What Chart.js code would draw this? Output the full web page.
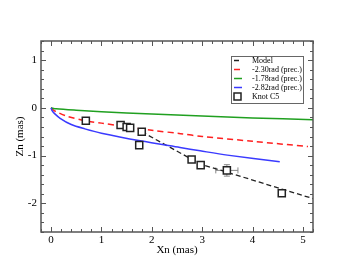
<!DOCTYPE html>
<html><head><meta charset="utf-8">
<script src="https://cdn.jsdelivr.net/npm/chart.js@4/dist/chart.umd.min.js"></script>
<style>html,body{margin:0;padding:0;background:#fff}canvas{display:block}</style>
</head><body>
<canvas id="c" width="353" height="273"></canvas>
<script>
// ---- data ----
const modelX = [1.8, 2.78, 2.97, 3.5, 4.58, 5.2];
const modelY = [-0.50, -1.07, -1.18, -1.35, -1.70, -1.90];
const redX = [0, 0.05, 0.1, 0.3, 0.68, 1.0, 1.5, 2.0, 2.57, 3.0, 4.0, 5.1];
const redY = [0, -0.05, -0.08, -0.17, -0.27, -0.32, -0.40, -0.47, -0.54, -0.60, -0.70, -0.81];
const greenX = [0, 0.1, 0.5, 1.0, 2.0, 3.0, 4.0, 5.2];
const greenY = [0, -0.02, -0.05, -0.08, -0.13, -0.17, -0.21, -0.25];
const blueX = [0, 0.02, 0.05, 0.18, 0.4, 0.67, 1.0, 1.77, 2.56, 2.96, 3.5, 4.54];
const blueY = [0, -0.06, -0.1, -0.22, -0.35, -0.44, -0.53, -0.69, -0.83, -0.90, -0.99, -1.13];
const knotX = [0.69, 1.38, 1.50, 1.57, 1.80, 1.75, 2.79, 2.97, 3.49, 4.58];
const knotY = [-0.27, -0.36, -0.40, -0.42, -0.50, -0.78, -1.08, -1.20, -1.31, -1.79];
const knotXErr = [0, 0, 0, 0, 0, 0, 0, 0, 0.22, 0];
const knotYErr = [0, 0, 0, 0, 0, 0, 0, 0, 0.12, 0];
const labels = ['Model', '-2.30rad (prec.)', '-1.78rad (prec.)', '-2.82rad (prec.)', 'Knot C5'];
const xTicks = [0, 1, 2, 3, 4, 5];
const yTicks = [-2, -1, 0, 1];
const xRange = [-0.2, 5.2];
const yRange = [-2.6, 1.4];

const pts = (xs, ys) => xs.map((x, i) => ({x, y: ys[i]}));
const FONT = "'Liberation Serif', 'DejaVu Serif', serif";

const framePlugin = {
  id: 'frame',
  afterDatasetsDraw(chart) {
    const {ctx, chartArea: a, scales} = chart;
    const xs = scales.x, ys = scales.y;
    ctx.save();
    ctx.strokeStyle = '#555';
    ctx.lineWidth = 1.5;
    ctx.strokeRect(a.left, a.top, a.right - a.left, a.bottom - a.top);
    ctx.lineWidth = 1;
    ctx.beginPath();
    for (let v = -0.2; v <= 5.2001; v += 0.2) {
      const px = Math.round(xs.getPixelForValue(v)) + 0.5;
      const major = Math.abs(v - Math.round(v)) < 1e-6;
      const L = major ? 5 : 3;
      ctx.moveTo(px, a.bottom); ctx.lineTo(px, a.bottom - L);
      ctx.moveTo(px, a.top); ctx.lineTo(px, a.top + L);
    }
    for (let v = -2.6; v <= 1.4001; v += 0.2) {
      const py = Math.round(ys.getPixelForValue(v)) + 0.5;
      const major = Math.abs(v - Math.round(v)) < 1e-6;
      const L = major ? 5 : 3;
      ctx.moveTo(a.left, py); ctx.lineTo(a.left + L, py);
      ctx.moveTo(a.right, py); ctx.lineTo(a.right - L, py);
    }
    ctx.stroke();
    ctx.restore();
  }
};

const errPlugin = {
  id: 'errbars',
  beforeDatasetsDraw(chart) {
    const {ctx, scales} = chart;
    ctx.save();
    ctx.strokeStyle = '#888';
    ctx.lineWidth = 1;
    ctx.beginPath();
    knotX.forEach((x, i) => {
      const px = scales.x.getPixelForValue(x), py = scales.y.getPixelForValue(knotY[i]);
      if (knotXErr[i] > 0) {
        const l = scales.x.getPixelForValue(x - knotXErr[i]), r = scales.x.getPixelForValue(x + knotXErr[i]);
        ctx.moveTo(l, py); ctx.lineTo(r, py);
        ctx.moveTo(l, py - 3); ctx.lineTo(l, py + 3);
        ctx.moveTo(r, py - 3); ctx.lineTo(r, py + 3);
      }
      if (knotYErr[i] > 0) {
        const t = scales.y.getPixelForValue(knotY[i] + knotYErr[i]), b = scales.y.getPixelForValue(knotY[i] - knotYErr[i]);
        ctx.moveTo(px, t); ctx.lineTo(px, b);
        ctx.moveTo(px - 3, t); ctx.lineTo(px + 3, t);
        ctx.moveTo(px - 3, b); ctx.lineTo(px + 3, b);
      }
    });
    ctx.stroke();
    ctx.restore();
  }
};

const legendPlugin = {
  id: 'customLegend',
  afterDraw(chart) {
    const {ctx} = chart;
    const bx = 231, by = 56, bw = 72, bh = 47;
    ctx.save();
    ctx.fillStyle = '#fff';
    ctx.fillRect(bx, by, bw, bh);
    ctx.strokeStyle = '#666';
    ctx.lineWidth = 1;
    ctx.strokeRect(bx + 0.5, by + 0.5, bw, bh);
    ctx.font = '8px ' + FONT;
    ctx.textBaseline = 'middle';
    ctx.fillStyle = '#000';
    const ds = chart.data.datasets;
    const rows = [60.5, 69.5, 78.5, 87.5, 96.5];
    ds.forEach((d, i) => {
      const y = rows[i];
      if (d.showLine === false) {
        ctx.fillStyle = '#fff';
        ctx.strokeStyle = '#222';
        ctx.lineWidth = 1.5;
        ctx.fillRect(234, y - 3.5, 7, 7);
        ctx.strokeRect(234, y - 3.5, 7, 7);
      } else {
        ctx.strokeStyle = d.borderColor;
        ctx.lineWidth = 1.5;
        ctx.setLineDash(d.borderDash || []);
        ctx.beginPath(); ctx.moveTo(234, y); ctx.lineTo(242, y); ctx.stroke();
        ctx.setLineDash([]);
      }
      ctx.fillStyle = '#000';
      ctx.fillText(d.label, 252, y);
    });
    ctx.restore();
  }
};

new Chart(document.getElementById('c'), {
  type: 'scatter',
  data: {
    datasets: [
      {label: labels[0], data: pts(modelX, modelY), showLine: true, borderColor: '#222', borderWidth: 1.3, borderDash: [5, 3], pointRadius: 0, order: 5},
      {label: labels[1], data: pts(redX, redY), showLine: true, borderColor: '#ff2020', borderWidth: 1.5, borderDash: [6, 4], pointRadius: 0, tension: 0.3, order: 4},
      {label: labels[2], data: pts(greenX, greenY), showLine: true, borderColor: '#20a020', borderWidth: 1.5, pointRadius: 0, tension: 0.3, order: 3},
      {label: labels[3], data: pts(blueX, blueY), showLine: true, borderColor: '#3a3aff', borderWidth: 1.5, pointRadius: 0, tension: 0.3, order: 2},
      {label: labels[4], data: pts(knotX, knotY), showLine: false, pointStyle: 'rect', pointRadius: 5, borderColor: '#222', borderWidth: 1.5, backgroundColor: '#fff', order: 1}
    ]
  },
  options: {
    responsive: false,
    animation: false,
    devicePixelRatio: 1,
    layout: {padding: {left: 0, top: 41, right: 40, bottom: 0}},
    plugins: {legend: {display: false}, tooltip: {enabled: false}},
    scales: {
      x: {
        type: 'linear', min: xRange[0], max: xRange[1],
        afterBuildTicks: s => { s.ticks = xTicks.map(v => ({value: v})); },
        afterFit: s => { s.height = 41; },
        grid: {display: false, drawTicks: false},
        border: {display: false},
        ticks: {padding: 2, color: '#000', font: {family: FONT, size: 11}, maxRotation: 0},
        title: {display: true, text: 'Xn (mas)', color: '#000', font: {family: FONT, size: 11}, padding: {top: 0, bottom: 16}}
      },
      y: {
        type: 'linear', min: yRange[0], max: yRange[1],
        afterBuildTicks: s => { s.ticks = yTicks.map(v => ({value: v})); },
        afterFit: s => { s.width = 41; },
        grid: {display: false, drawTicks: false},
        border: {display: false},
        ticks: {padding: 4, color: '#000', font: {family: FONT, size: 11}},
        title: {display: true, text: 'Zn (mas)', color: '#000', font: {family: FONT, size: 11}, padding: {top: 14, bottom: 0}}
      }
    }
  },
  plugins: [errPlugin, framePlugin, legendPlugin]
});
</script>
</body></html>
